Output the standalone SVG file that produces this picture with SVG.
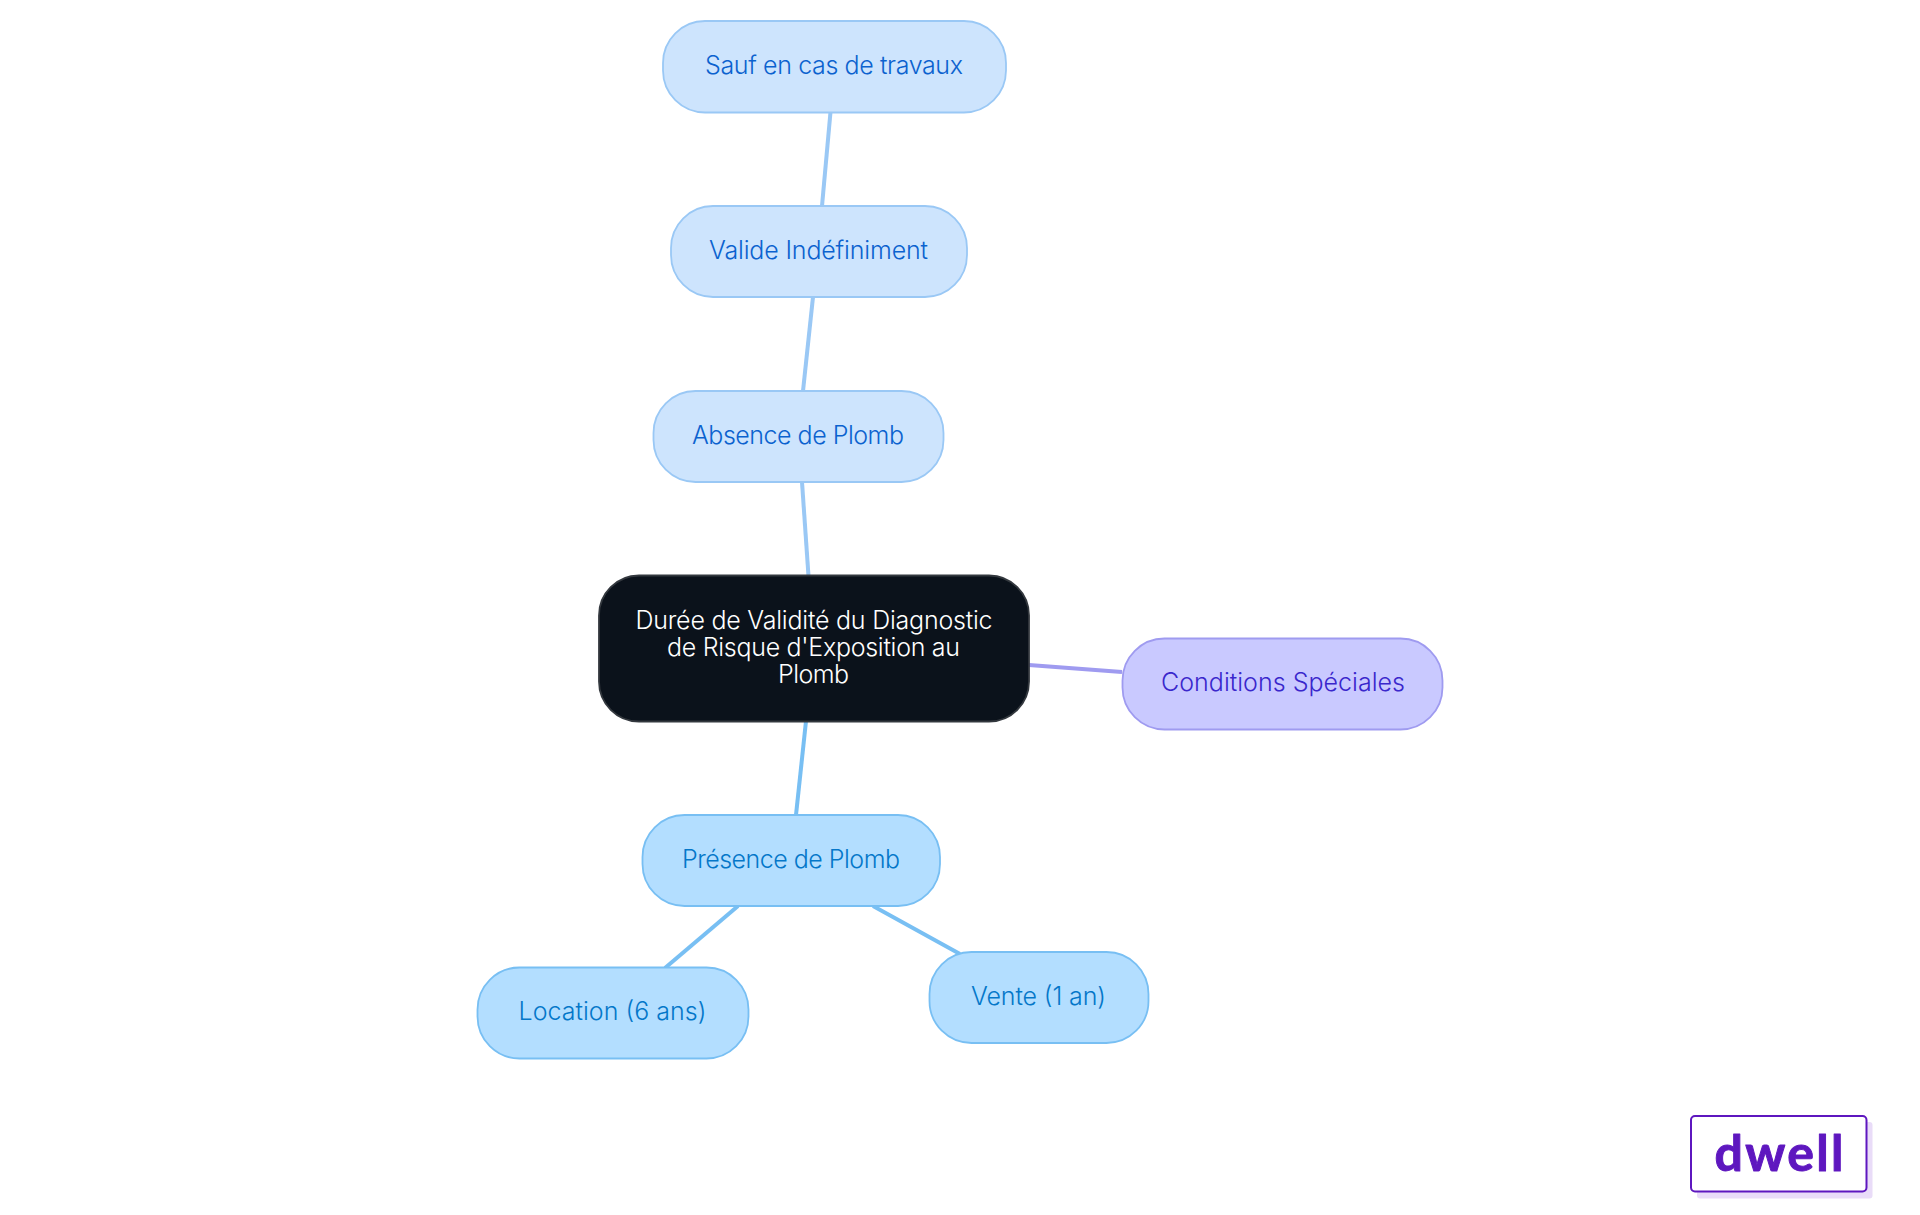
<svg xmlns="http://www.w3.org/2000/svg" width="1920" height="1215" viewBox="0 0 1920 1215">
<style>
text{font-family:"Inter","Noto Sans","Liberation Sans",sans-serif;font-size:25px;font-weight:350;text-anchor:middle}
.e{fill:none;stroke-width:4;stroke-linecap:butt}
.b{stroke:#9ac8f5}.c{stroke:#78bff3}.p{stroke:#9f9bf0}
.nb rect{fill:#cde4fd;stroke:#9ac8f5;stroke-width:1.8}.nb text{fill:#0b62cf}
.nc rect{fill:#b3deff;stroke:#78bff3;stroke-width:1.8}.nc text{fill:#0477c9}
.np rect{fill:#c9c9ff;stroke:#9f9bf0;stroke-width:1.8}.np text{fill:#3a27cc}
</style>
<rect width="1920" height="1215" fill="#fff"/>
<g id="connectors">
<line class="e b" x1="808.5" y1="576" x2="802" y2="482"/>
<line class="e b" x1="803" y1="391" x2="813" y2="297"/>
<line class="e b" x1="822" y1="206" x2="830.5" y2="112"/>
<line class="e c" x1="806" y1="721" x2="796" y2="815"/>
<line class="e c" x1="738" y1="906" x2="665" y2="968"/>
<line class="e c" x1="873" y1="906" x2="960" y2="954"/>
<line class="e p" x1="1029" y1="665" x2="1122" y2="672"/>
</g>
<g id="root">
<rect x="599" y="575.500" width="430" height="146" rx="40" fill="#0b121b" stroke="#33383e" stroke-width="1.8"/>
<text x="814" y="629" fill="#fff" textLength="357">Durée de Validité du Diagnostic</text>
<text x="813.500" y="656" fill="#fff" textLength="293">de Risque d'Exposition au</text>
<text x="813.500" y="683" fill="#fff" textLength="71">Plomb</text>
</g>
<g id="sauf" class="nb"><rect x="663" y="21" width="343" height="91.500" rx="42"/><text x="834" y="74" textLength="258">Sauf en cas de travaux</text></g>
<g id="valide" class="nb"><rect x="671" y="206" width="296" height="91" rx="42"/><text x="818.500" y="259" textLength="219">Valide Indéfiniment</text></g>
<g id="absence" class="nb"><rect x="653.500" y="391" width="290" height="91" rx="42"/><text x="798" y="444" textLength="212">Absence de Plomb</text></g>
<g id="presence" class="nc"><rect x="642.500" y="815" width="297.500" height="91" rx="42"/><text x="791" y="868" textLength="218">Présence de Plomb</text></g>
<g id="location" class="nc"><rect x="477.500" y="967.500" width="271" height="91" rx="42"/><text x="612.500" y="1020" textLength="188">Location (6 ans)</text></g>
<g id="vente" class="nc"><rect x="929.500" y="952" width="219" height="91" rx="42"/><text x="1038.500" y="1005" textLength="135">Vente (1 an)</text></g>
<g id="conditions" class="np"><rect x="1122.500" y="638.500" width="320" height="91" rx="42"/><text x="1283" y="691" textLength="244">Conditions Spéciales</text></g>
<g id="logo">
<rect x="1697" y="1122" width="175.500" height="76.500" rx="3" fill="#e9dcf8"/>
<rect x="1691" y="1116" width="175.500" height="75.500" rx="4" fill="#fff" stroke="#5e17bf" stroke-width="2"/>
<text x="1779" y="1171" style="font-family:'Lato','Open Sans',sans-serif;font-size:50px;font-weight:700;fill:#5e17bf;stroke:#5e17bf;stroke-width:1;stroke-linejoin:round" textLength="129">dwell</text>
</g>
</svg>
